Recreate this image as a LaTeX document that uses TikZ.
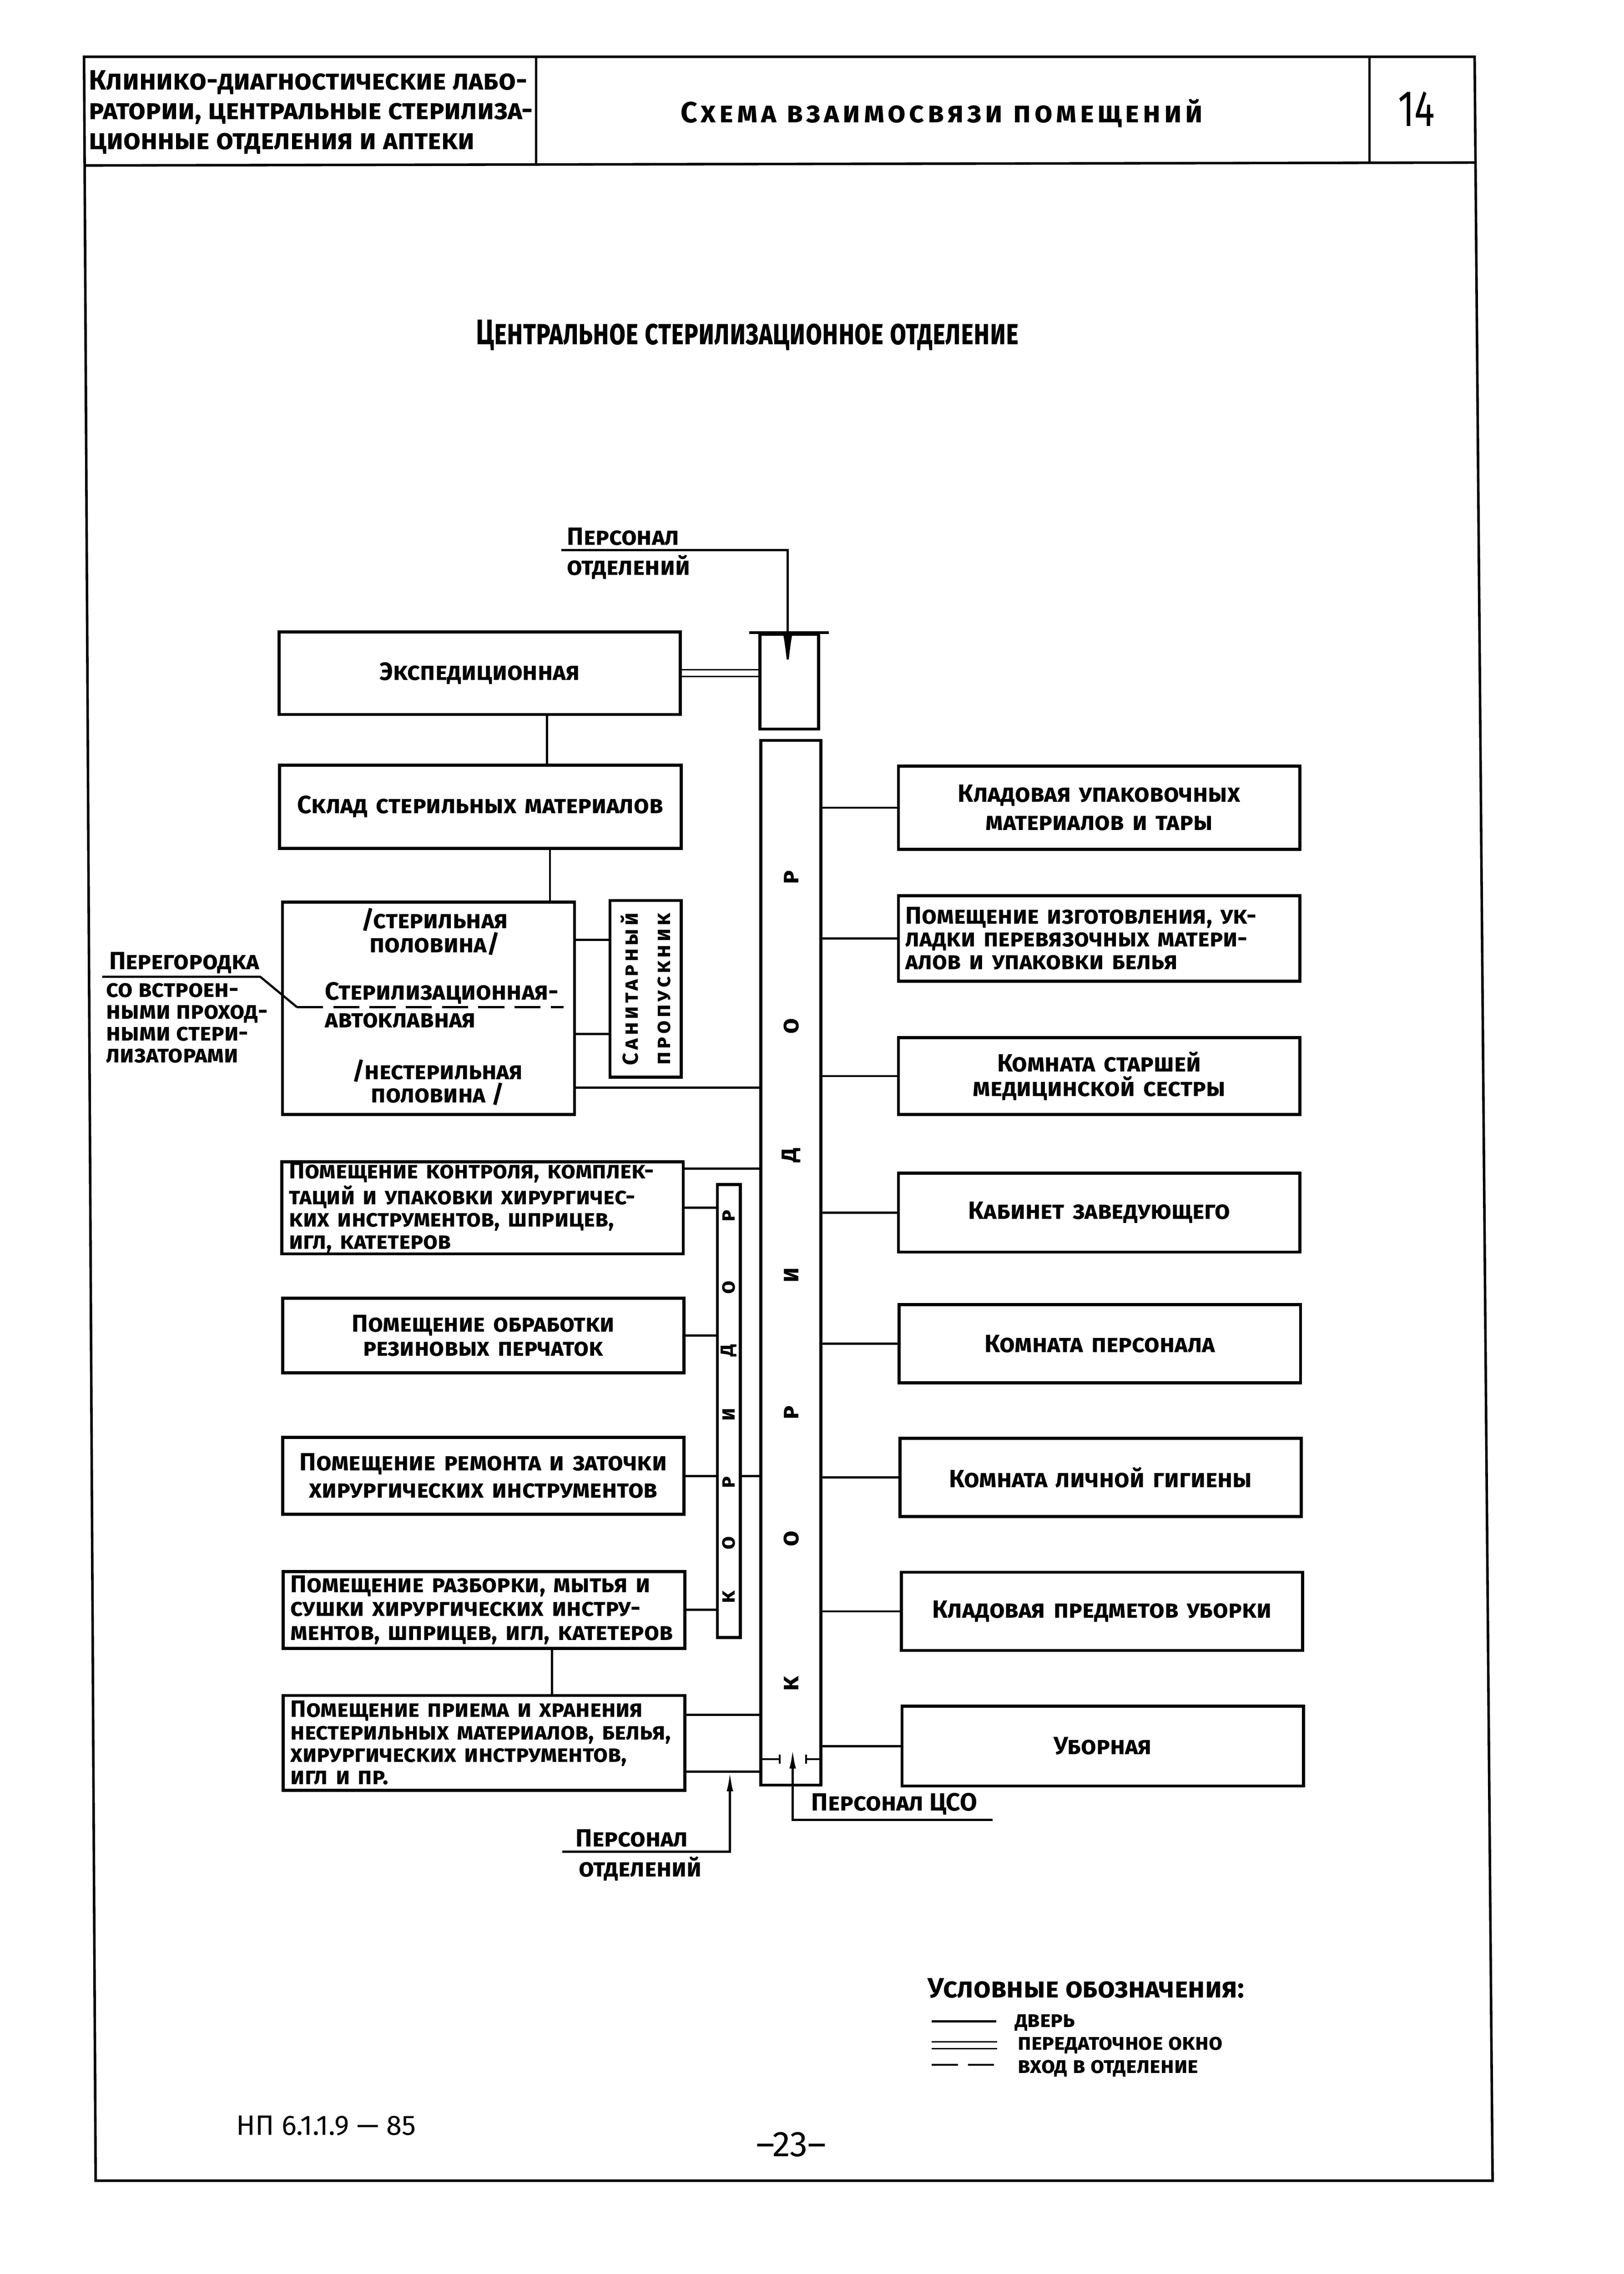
\documentclass[tikz,border=0pt]{standalone}
\usepackage{fontspec}
\newfontfamily\drawfont{Fira Sans}
\newfontfamily\narrowfont{Fira Sans}[FakeStretch=0.75]
\usetikzlibrary{
    arrows.meta,
    positioning,
    calc
}
\newcommand\boxfont{\drawfont\bfseries\scshape\fontsize{9.8}{9.6}\selectfont}
\newcommand\headfont{\drawfont\bfseries\scshape\fontsize{11}{11.7}\selectfont}
\newcommand\titlefont{\drawfont\bfseries\scshape\fontsize{11.5}{12}\selectfont\addfontfeatures{LetterSpace=12}}
\newcommand\deptfont{\narrowfont\bfseries\scshape\fontsize{14}{14}\selectfont}
\newcommand\legfont{\drawfont\bfseries\scshape\fontsize{8.8}{9}\selectfont}

\begin{document}
\begin{tikzpicture}[
  x=0.2mm, y=-0.2mm,
  >=Latex,
  every node/.style = {inner sep=0pt, font=\boxfont},
  room/.style      = {rectangle, draw, line width=0.42mm, inner xsep=1mm,
                      align=center, text width=53.4mm, minimum height=10.8mm},
  shell/.style     = {rectangle, draw, line width=0.42mm},
  wall/.style      = {line width=0.42mm},
  conn/.style      = {line width=0.3mm},
  window/.style    = {double, double distance=0.74mm, line width=0.2mm},
  partition/.style = {line width=0.3mm, dash pattern=on 3.6mm off 1.4mm},
  frame/.style     = {line width=0.35mm},
  corrletter/.style = {rotate=90, font=\drawfont\bfseries\scshape\fontsize{10}{10}\selectfont},
  toparrow/.style  = {conn, -{Latex[length=5.5mm, width=1.3mm]}},
  botarrow/.style  = {conn, -{Latex[length=2.7mm, width=0.9mm]}}
]

\useasboundingbox (0,-2.2) rectangle (1120.4,1567.4);

% Sheet frame and header
\draw[frame] (58,37) -- (1017.6,37) -- (1030,1503) -- (66,1503) -- cycle;
\draw[frame] (58,112) -- (1018,110);
\draw[frame] (370,37) -- (370,111.5);
\draw[frame] (945,37) -- (945,110);

\node[anchor=north west, align=left, font=\headfont] (series) at (61,46)
  {Клинико-диагностические лабо-\\ратории, центральные стерилиза-\\ционные отделения и аптеки};
\node[font=\titlefont] (sheettitle) at (650,76) {Схема взаимосвязи помещений};
\node[font=\narrowfont\fontsize{20}{20}\selectfont] (sheetno) at (977.5,73) {14};

\node[font=\deptfont] (dept) at (515.7,229) {Центральное стерилизационное отделение};

% Rooms, left column
\node[room, minimum height=11.4mm] (eksp) at (331,462.5) {Экспедиционная};
\node[room, minimum height=11.5mm] (sklad) at (331.5,554.7) {Склад стерильных материалов};
\node[room, text width=38.3mm, minimum height=29.3mm] (steril) at (295.7,693.7) {};
\node[shell, minimum width=9.8mm, minimum height=24.4mm] (sanit) at (445.5,680.4) {};
\node[room, align=left, minimum height=12.7mm, font=\drawfont\bfseries\scshape\fontsize{9.3}{8.8}\selectfont] (kontrol) at (333,831.5)
  {Помещение контроля, комплек-\\таций и упаковки хирургичес-\\ких инструментов, шприцев,\\игл, катетеров};
\node[room, minimum height=10.3mm, font=\drawfont\bfseries\scshape\fontsize{9.6}{9.6}\selectfont] (obrab) at (333.5,919.7)
  {Помещение обработки\\резиновых перчаток};
\node[room, minimum height=10.6mm, font=\drawfont\bfseries\scshape\fontsize{9.8}{10.8}\selectfont] (remont) at (333.5,1016.5)
  {Помещение ремонта и заточки\\хирургических инструментов};
\node[room, align=left, minimum height=10.6mm, font=\drawfont\bfseries\scshape\fontsize{9.6}{9.4}\selectfont] (razbor) at (334,1109)
  {Помещение разборки, мытья и\\сушки хирургических инстру-\\ментов, шприцев, игл, катетеров};
\node[room, align=left, minimum height=13.1mm, font=\drawfont\bfseries\scshape\fontsize{9.3}{8.8}\selectfont] (priem) at (334,1200.8)
  {Помещение приема и хранения\\нестерильных материалов, белья,\\хирургических инструментов,\\игл и пр.};

% Sterilization room inside
\node[align=center, font=\drawfont\bfseries\scshape\fontsize{9.8}{9.4}\selectfont] (sterhalf) at (300,641) {/стерильная\\половина/};
\node[anchor=north west, align=left, font=\drawfont\bfseries\scshape\fontsize{9.8}{10.8}\selectfont] (sterauto) at (224,675.5)
  {Стерилизационная-\\автоклавная};
\node[align=center, font=\drawfont\bfseries\scshape\fontsize{9.6}{9}\selectfont] (nonster) at (302,745) {/нестерильная\\половина /};
\node[rotate=90, align=center, font=\drawfont\bfseries\scshape\fontsize{8.5}{12.7}\selectfont\addfontfeatures{LetterSpace=14}] (sanittxt)
  at (sanit.center) {Санитарный\\пропускник};

\coordinate (partL) at (205,693);
\coordinate (partR) at (389,693);
\draw[partition] (partL) -- (partR);

\node[anchor=south west] (pereg) at (75,670) {Перегородка};
\node[anchor=north west, align=left, font=\drawfont\bfseries\scshape\fontsize{9.4}{8.6}\selectfont] (peregtxt) at (73,676)
  {со встроен-\\ными проход-\\ными стери-\\лизаторами};
\coordinate (peregL) at (70.5,672);
\coordinate (peregR) at (179.6,672);
\draw[conn] (peregL) -- (peregR) -- (partL);

% Corridors
\node[shell, minimum width=8.1mm, minimum height=13.1mm] (vest) at (544.75,468.25) {};
\draw[wall] ([xshift=-1.3mm]vest.north west) -- ([xshift=1.2mm]vest.north east);
\node[shell, minimum width=8.3mm, minimum height=144.2mm] (corr) at (545.75,869.4) {};
\node[shell, minimum width=3.2mm, minimum height=62.5mm] (smallcorr) at (503,971.7) {};

\foreach \ch/\yy [count=\i] in {к/1160, о/1060, р/973, и/878, д/795, о/706, р/603.5}
  \node[corrletter] (cl\i) at (546,\yy) {\ch};
\foreach \ch/\yy [count=\i] in {к/1100, о/1063, р/1021, и/974, д/930, о/886.6, р/837}
  \node[corrletter, font=\drawfont\bfseries\scshape\fontsize{8.5}{8.5}\selectfont] (sl\i) at (503,\yy) {\ch};

% Rooms, right column
\node[room, minimum height=11.5mm, font=\drawfont\bfseries\scshape\fontsize{9.8}{11}\selectfont] (kladupak) at (758.5,555.3)
  {Кладовая упаковочных\\материалов и тары};
\node[room, align=left, minimum height=11.8mm, font=\drawfont\bfseries\scshape\fontsize{9.6}{9}\selectfont] (izgot) at (758.5,645.5)
  {Помещение изготовления, ук-\\ладки перевязочных матери-\\алов и упаковки белья};
\node[room, minimum height=10.6mm] (starsh) at (758.5,740.5)
  {Комната старшей\\медицинской сестры};
\node[room, minimum height=10.9mm] (kabinet) at (758.5,834.75) {Кабинет заведующего};
\node[room] (persroom) at (759,925.35) {Комната персонала};
\node[room] (gigiena) at (759.5,1017.55) {Комната личной гигиены};
\node[room] (uborka) at (760.5,1110) {Кладовая предметов уборки};
\node[room, minimum height=11mm] (ubornaya) at (761,1203) {Уборная};

% Doors and windows
\draw[window] (eksp.east) -- (eksp.east -| vest.west);
\draw[conn] ([xshift=9.3mm]eksp.south) -- ([xshift=9.3mm]eksp.south |- sklad.north);
\draw[conn] ([xshift=9.6mm]sklad.south) -- ([xshift=9.6mm]sklad.south |- steril.north);
\draw[conn] ([yshift=9.46mm]steril.east) -- ([yshift=9.46mm]steril.east -| sanit.west);
\draw[conn] ([yshift=-3.58mm]steril.east) -- ([yshift=-3.58mm]steril.east -| sanit.west);
\draw[conn] ([yshift=-10.98mm]steril.east) -- ([yshift=-10.98mm]steril.east -| corr.west);
\draw[conn] ([yshift=5.4mm]kontrol.east) -- ([yshift=5.4mm]kontrol.east -| corr.west);
\draw[conn] (kontrol.east) -- (kontrol.east -| smallcorr.west);
\draw[conn] (obrab.east) -- (obrab.east -| smallcorr.west);
\draw[conn] (remont.east) -- (remont.east -| smallcorr.west);
\draw[conn] (remont.east -| smallcorr.east) -- (remont.east -| corr.west);
\draw[conn] (razbor.east) -- (razbor.east -| smallcorr.west);
\draw[conn] ([xshift=9.4mm]razbor.south) -- ([xshift=9.4mm]razbor.south |- priem.north);
\draw[conn] ([yshift=3.86mm]priem.east) -- ([yshift=3.86mm]priem.east -| corr.west);
\coordinate (priemlow) at ([yshift=-3.98mm]priem.east);
\draw[conn] (priemlow) -- (priemlow -| corr.west);

\foreach \r in {kladupak, izgot, starsh, kabinet, persroom, gigiena, uborka, ubornaya}
  \draw[conn] (\r.west) -- (\r.west -| corr.east);

% Entrances
\coordinate (topline) at (387.5,377.5);
\coordinate (topin) at (543.6,377.5);
\node[anchor=south west] (perstop) at (391,374.5) {Персонал};
\node[anchor=north west] (otdtop) at (391,380.5) {отделений};
\draw[toparrow] (topline) -- (topin) -- (topin |- eksp);

\coordinate (botline) at (388,1276);
\coordinate (botin) at (503.7,1276);
\node[anchor=south west] (persbot) at (397,1273) {Персонал};
\node[anchor=north west] (otdbot) at (399,1279) {отделений};
\draw[botarrow] (botline) -- (botin) -- (botin |- priemlow);

\coordinate (doorL) at (538.8,1212);
\coordinate (doorR) at (555.5,1212);
\draw[conn, -{Bar[width=1.3mm]}] (doorL -| corr.west) -- (doorL);
\draw[conn, -{Bar[width=1.3mm]}] (doorR -| corr.east) -- (doorR);
\coordinate (csoend) at (685,1254);
\coordinate (csoin) at (547,1254);
\coordinate (csotip) at (547,1205);
\node[anchor=south west] (perscso) at (559.6,1251) {Персонал ЦСО};
\draw[botarrow] (csoend) -- (csoin) -- (csotip);

% Legend
\node[anchor=west, font=\drawfont\bfseries\scshape\fontsize{11}{12}\selectfont] (legtitle) at (640,1370) {Условные обозначения:};
\node[anchor=west, font=\legfont] (legdoor) at (700,1394) {дверь};
\node[anchor=west, font=\legfont] (legwin) at (702,1409.5) {передаточное окно};
\node[anchor=west, font=\legfont] (legentry) at (702,1425.5) {вход в отделение};
\draw[conn] ([xshift=-11.4mm,yshift=0.2mm]legdoor.west) -- ([xshift=-2.5mm,yshift=0.2mm]legdoor.west);
\draw[window] ([xshift=-11.8mm]legwin.west) -- ([xshift=-2.8mm]legwin.west);
\draw[partition] ([xshift=-11.8mm,yshift=0.5mm]legentry.west) -- ([xshift=-2.8mm,yshift=0.5mm]legentry.west);

% Sheet footer
\node[font=\drawfont\fontsize{11}{11}\selectfont] (docno) at (225,1465) {НП 6.1.1.9 — 85};
\node[font=\drawfont\fontsize{14}{14}\selectfont] (pageno) at (546,1478) {–23–};

\end{tikzpicture}
\end{document}
